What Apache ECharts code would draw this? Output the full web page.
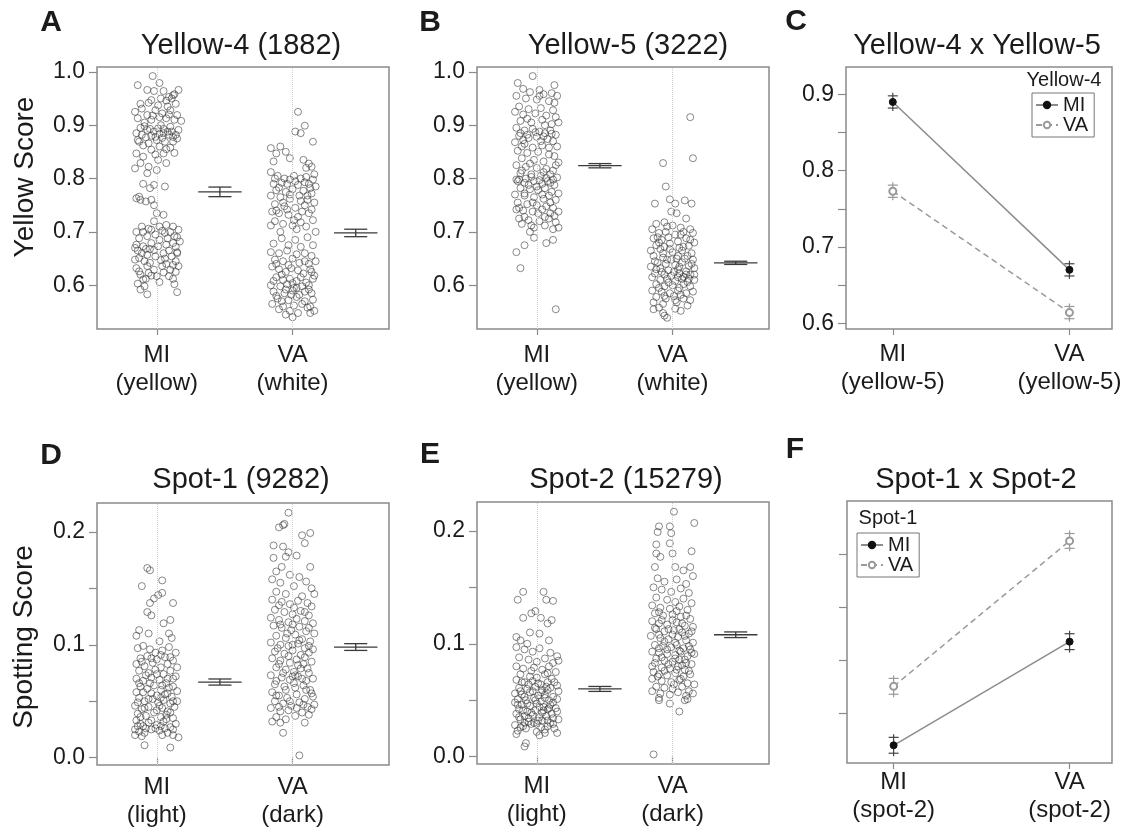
<!DOCTYPE html>
<html>
<head>
<meta charset="utf-8">
<script src="https://cdn.jsdelivr.net/npm/echarts@6/dist/echarts.min.js"></script>
<style>
html,body{margin:0;padding:0;background:#fff;}
#chart{width:1126px;height:830px;}
</style>
</head>
<body>
<div id="chart"></div>
<script>
// ---------------- DATA ----------------
// jittered points: [x-jitter (category units), score]
const yellow4_MI = [
[-.03,.992],[-.14,.975],[.02,.979],[.16,.966],[-.07,.966],[-.02,.964],[.05,.964],[.09,.953],[.12,.956],[-.04,.947],[.03,.950],[.07,.946],[.11,.950],[.13,.958],
[-.16,.925],[-.11,.931],[-.07,.919],[-.01,.928],[.04,.922],[.10,.928],[.15,.919],[-.14,.913],[-.04,.910],[.07,.913],[.13,.910],[.18,.908],[.01,.937],[-.09,.905],
[-.15,.885],[-.11,.882],[-.07,.891],[-.02,.888],[.01,.894],[.05,.885],[.08,.888],[.12,.878],[.16,.891],[-.13,.869],[-.06,.866],[0,.872],[.06,.869],[.12,.869],[-.09,.898],[.03,.900],[.10,.897],[-.01,.878],[.04,.876],[.14,.882],[-.04,.880],
[-.15,.847],[-.10,.841],[-.04,.854],[.01,.835],[.05,.847],[-.12,.829],[-.06,.822],[0,.816],[.07,.829],[-.16,.819],[.10,.858],[.02,.860],
[-.07,.810],[-.10,.790],[-.02,.788],[-.05,.782],[.06,.785],[-.15,.763],[-.12,.760],[-.08,.757],[-.04,.760],[-.02,.750],[0,.735],[.05,.732],[-.13,.766],
[-.02,.720],[-.15,.700],[-.10,.700],[-.04,.704],[.02,.710],[.07,.713],[.12,.710],[.16,.704],[-.13,.688],[-.07,.692],[-.01,.695],[.06,.698],[.13,.692],[-.15,.676],[-.10,.673],[-.04,.679],[.01,.673],[.07,.676],[.12,.679],[.17,.682],[-.08,.668],[.09,.665],[.15,.662],[-.02,.666],
[-.13,.651],[-.07,.657],[-.01,.654],[.05,.660],[.11,.654],[.15,.660],[-.16,.670],[.14,.645],[-.05,.642],[.03,.647],
[-.15,.632],[-.07,.636],[-.02,.629],[.04,.636],[.10,.629],[.16,.636],[-.12,.620],[-.06,.623],[0,.617],[.09,.617],[-.10,.611],[.02,.606],[.12,.612],[-.13,.626],[.14,.625],
[-.09,.598],[-.12,.592],[-.07,.583],[.15,.587],[-.14,.603],
[-.12,.895],[-.05,.893],[.02,.884],[.09,.882],[.15,.875],[-.14,.872],[-.08,.877],[.05,.893],[.11,.888],[-.03,.918],[.02,.915],[.09,.920],[-.12,.940],[-.06,.942],[.08,.935],[.14,.940],[-.10,.862],[.07,.855],[.13,.848],[-.01,.845],
[-.11,.710],[-.06,.706],[.04,.702],[.10,.700],[.15,.690],[-.14,.665],[-.11,.660],[-.05,.668],[.02,.685],[.08,.688],[.14,.672],[-.09,.645],[.07,.640],[.12,.638],[-.16,.648],[-.04,.618],[.05,.624],[.13,.602],[-.08,.612],[.06,.650]
];
const yellow4_VA = [
[.04,.925],[.02,.888],[.06,.885],[.09,.899],[.15,.869],
[-.16,.857],[-.09,.860],[-.05,.850],[-.12,.847],[.08,.835],[-.14,.832],[.12,.828],[-.02,.838],[.10,.820],[.14,.822],
[-.16,.812],[-.11,.805],[-.06,.800],[-.02,.798],[.02,.795],[.06,.800],[.10,.803],[.15,.798],[-.14,.790],[-.08,.792],[.04,.788],[.12,.790],[.17,.785],[-.12,.778],[-.05,.775],[0,.780],[.08,.777],[.14,.772],[-.16,.768],[-.09,.765],[-.02,.762],[.05,.768],[.11,.760],[.16,.755],[-.13,.752],[-.06,.748],[.02,.745],[.09,.750],[.14,.742],
[-.15,.738],[-.10,.735],[-.03,.732],[.04,.728],[.12,.735],[-.13,.720],[-.07,.715],[0,.712],[.06,.718],[.15,.722],[-.16,.712],[.10,.710],[.03,.705],[.17,.700],[-.09,.700],
[-.08,.688],[.02,.685],[.11,.690],[-.14,.678],[-.03,.675],[.06,.672],[.15,.675],[-.16,.662],[-.10,.660],[-.04,.665],[.03,.658],[.09,.660],[.14,.655],[-.13,.648],[-.07,.645],[0,.650],[.05,.642],[.12,.640],[.17,.645],
[-.15,.635],[-.10,.630],[-.05,.625],[-.01,.632],[.04,.628],[.08,.622],[.13,.630],[.16,.618],[-.12,.615],[-.07,.610],[-.02,.612],[.03,.608],[.10,.605],[.15,.612],[-.16,.600],[-.09,.598],[-.04,.602],[.01,.595],[.07,.598],[.12,.592],[-.14,.588],[-.06,.585],[0,.590],[.05,.582],[.14,.585],[-.11,.575],[-.03,.572],[.03,.578],[.09,.570],[.15,.573],[-.15,.565],[-.07,.560],[.01,.562],[.11,.558],[-.02,.552],[.04,.548],[-.05,.545],[0,.540],[.16,.552],[.13,.548],[-.10,.555],
[-.13,.800],[-.04,.790],[.01,.805],[.09,.793],[.13,.782],[-.10,.783],[-.02,.770],[.06,.758],[.11,.768],[-.07,.755],[-.12,.740],[.07,.738],[.01,.722],[-.04,.742],[.16,.808],
[-.12,.640],[-.03,.638],[.09,.645],[.14,.625],[-.08,.620],[.06,.615],[-.14,.608],[.00,.604],[.12,.600],[-.05,.592],[.09,.588],[-.12,.580],[.03,.595],[.07,.565],[-.08,.570],[.13,.560],[-.01,.582]
];
const yellow5_MI = [
[-.03,.992],[-.14,.979],[.13,.975],[-.10,.968],[-.05,.962],[.02,.966],[.05,.958],[.11,.960],[.15,.955],[-.15,.955],[-.08,.950],[.00,.948],[.09,.945],
[-.13,.935],[-.06,.930],[.03,.932],[.12,.928],[-.16,.925],[-.10,.920],[-.01,.922],[.07,.918],[.14,.915],[-.12,.908],[-.04,.905],[.04,.910],[.11,.902],[.16,.905],
[-.15,.895],[-.09,.890],[-.03,.893],[.02,.888],[.06,.885],[.10,.890],[.14,.882],[-.13,.880],[-.06,.876],[0,.878],[.08,.874],[.12,.870],[-.16,.868],[-.09,.865],[.04,.862],[.15,.860],[-.03,.858],
[-.14,.852],[-.07,.848],[.01,.850],[.09,.845],[.13,.842],[-.11,.838],[-.02,.835],[.05,.832],[.16,.830],[-.15,.825],[-.08,.822],[.00,.820],[.07,.818],[.12,.815],[-.12,.810],[-.04,.808],[.03,.805],[.10,.808],[.15,.802],
[-.15,.798],[-.14,.795],[-.09,.792],[-.02,.795],[.04,.790],[.08,.795],[.13,.788],[-.12,.782],[-.05,.780],[.01,.778],[.06,.782],[.11,.775],[.16,.772],[-.16,.770],[-.09,.768],[-.02,.765],[.05,.762],[.09,.768],[.14,.760],
[-.14,.755],[-.07,.752],[.00,.750],[.07,.748],[.12,.745],[-.15,.742],[-.10,.740],[-.03,.738],[.04,.742],[.10,.735],[.16,.738],
[-.13,.725],[-.06,.722],[.02,.720],[.09,.725],[.14,.718],[-.11,.715],[-.04,.712],[-.02,.708],[.06,.712],[.12,.705],[.16,.708],
[-.15,.662],[-.12,.632],[-.09,.675],[-.02,.689],[.07,.679],[.12,.685],[-.05,.700],[.14,.555],
[-.12,.885],[-.07,.882],[-.01,.887],[.05,.879],[.11,.884],[-.10,.872],[.03,.870],[-.13,.798],[-.08,.800],[-.04,.803],[.02,.797],[.07,.801],[.12,.798],[-.06,.788],[.00,.785],[.10,.792],[-.11,.815],[.05,.812],[.14,.825],[-.05,.828],[.09,.858],[-.11,.860],[.06,.900],[-.07,.912],[.13,.942],[.02,.955],[-.09,.772],[.04,.770],[.10,.755],[-.03,.755],[.13,.730],[-.09,.728],[.06,.728],[-.13,.745],[.01,.735]
];
const yellow5_VA = [
[.13,.915],[.15,.838],[-.07,.829],[-.05,.785],[-.13,.753],[-.02,.761],[.02,.753],[.09,.759],[.14,.753],[.03,.735],[-.01,.738],[.10,.725],
[-.12,.715],[-.06,.718],[-.04,.710],[.00,.712],[.06,.708],[.13,.705],[-.15,.705],[-.10,.698],[-.05,.700],[.02,.695],[.08,.700],[.15,.698],
[-.14,.688],[-.08,.685],[-.03,.690],[.04,.682],[.10,.688],[.16,.680],[-.12,.675],[-.06,.672],[-.02,.678],[.05,.670],[.12,.674],[-.16,.665],[-.09,.668],[.00,.662],[.07,.665],[.14,.660],
[-.14,.655],[-.07,.652],[-.01,.648],[.04,.655],[.09,.650],[.15,.648],[-.11,.642],[-.05,.640],[.02,.638],[.07,.643],[.12,.636],[-.16,.635],[-.09,.632],[-.03,.628],[.04,.630],[.10,.626],[.16,.632],
[-.13,.622],[-.06,.620],[-.01,.618],[.05,.622],[.08,.616],[.13,.620],[-.15,.615],[-.09,.610],[-.04,.612],[.02,.608],[.07,.612],[.11,.606],[.16,.610],[-.12,.602],[-.06,.598],[.00,.600],[.05,.595],[.13,.598],
[-.15,.590],[-.08,.588],[-.02,.585],[.04,.590],[.10,.585],[.15,.588],[-.12,.578],[-.05,.575],[.01,.580],[.08,.575],[.13,.572],[-.14,.568],[-.07,.565],[.03,.568],[.11,.562],[-.10,.558],
[-.14,.555],[-.07,.548],[-.04,.539],[-.06,.543],[.02,.556],[.06,.552],
[-.10,.680],[-.02,.668],[.08,.672],[.13,.685],[-.07,.660],[.03,.650],[.11,.655],[-.13,.645],[-.04,.648],[.05,.635],[.14,.640],[-.08,.625],[.01,.625],[.10,.620],[-.12,.630],[-.03,.605],[.04,.615],[.12,.612],[-.10,.595],[.08,.602],[.16,.620],[-.06,.580],[.06,.582],[.02,.572],[-.11,.690],[.06,.695]
];
const spot1_MI = [
[-.07,.168],[-.05,.166],[-.11,.152],[.04,.157],[-.02,.141],[.01,.144],[.04,.146],[-.05,.137],[.12,.137],[-.07,.129],[-.04,.126],[.05,.119],[.10,.122],[-.13,.113],[-.06,.110],[.09,.110],[.11,.106],[-.15,.108],[.02,.103],
[-.14,.097],[-.10,.099],[-.05,.096],[-.01,.093],[.04,.095],[.09,.098],[.14,.093],[-.12,.088],[-.07,.090],[.00,.087],[.06,.089],[.12,.086],[-.15,.083],[-.09,.081],[-.03,.084],[.03,.080],[.08,.083],[.15,.080],
[-.13,.077],[-.06,.075],[-.01,.078],[.05,.074],[.10,.077],[.14,.072],[-.15,.070],[-.10,.068],[-.04,.071],[.02,.069],[.07,.066],[.12,.070],[-.12,.063],[-.07,.061],[-.02,.064],[.03,.060],[.09,.062],[.15,.059],[-.15,.058],[-.04,.057],[.06,.056],[.11,.054],
[-.13,.053],[-.09,.050],[-.03,.052],[.01,.049],[.05,.051],[.10,.048],[.15,.050],[-.16,.046],[-.11,.043],[-.06,.045],[.00,.042],[.04,.044],[.08,.041],[.13,.045],[-.14,.039],[-.08,.037],[-.02,.040],[.03,.036],[.07,.038],[.12,.035],
[-.15,.033],[-.12,.030],[-.10,.028],[-.06,.031],[.00,.029],[.05,.032],[.10,.027],[.14,.030],[-.16,.025],[-.13,.023],[-.09,.022],[-.04,.025],[.02,.024],[.08,.022],[.12,.020],[-.16,.020],[.16,.018],[-.01,.026],[.04,.020],
[-.09,.011],[.10,.009],
[-.11,.085],[-.04,.088],[.03,.091],[.10,.089],[-.08,.073],[.00,.074],[.08,.070],[-.13,.066],[-.05,.066],[.04,.064],[.12,.063],[-.10,.058],[.00,.055],[.08,.057],[-.14,.049],[-.06,.052],[.03,.053],[.12,.050],[-.09,.044],[.02,.046],[.10,.040],[-.12,.036],[-.04,.033],[.07,.034],[-.14,.028],[-.08,.026],[.03,.028],[.12,.025],[-.11,.019],[.06,.026]
];
const spot1_VA = [
[-.03,.217],[-.10,.204],[-.07,.206],[-.06,.207],[.07,.197],[.13,.199],[.09,.190],[-.14,.188],[-.07,.187],[-.03,.182],[-.05,.178],[.03,.179],[-.14,.177],[-.08,.169],[.13,.169],[-.12,.165],[-.02,.162],[.05,.160],[.10,.156],[-.15,.158],[-.09,.155],[.01,.152],[.14,.150],
[-.12,.147],[-.05,.145],[.07,.143],[.16,.145],[-.15,.140],[-.08,.138],[-.02,.136],[.04,.139],[.11,.137],[.14,.134],[-.13,.131],[-.06,.129],[.00,.127],[.06,.130],[.12,.126],[-.16,.124],[-.10,.122],[-.03,.120],[.03,.123],[.09,.121],[.15,.119],
[-.14,.117],[-.08,.115],[-.01,.113],[.05,.116],[.10,.112],[.16,.110],[-.12,.108],[-.05,.106],[.02,.109],[.07,.105],[.13,.103],[-.16,.102],[-.09,.100],[-.03,.099],[.04,.101],[.09,.097],[.15,.096],[-.13,.094],[-.06,.092],[.00,.095],[.06,.091],[.12,.093],
[-.15,.088],[-.09,.086],[-.02,.084],[.03,.087],[.08,.083],[.14,.085],[-.12,.080],[-.05,.078],[.01,.076],[.06,.079],[.12,.075],[-.16,.073],[-.08,.071],[-.02,.069],[.04,.072],[.10,.068],[.15,.070],[-.13,.065],[-.06,.063],[.02,.062],[.08,.064],[.13,.060],
[-.15,.058],[-.10,.055],[-.04,.053],[.03,.056],[.09,.052],[.15,.054],[-.13,.050],[-.07,.048],[-.01,.046],[.05,.049],[.11,.045],[.16,.047],[-.16,.044],[-.09,.041],[-.03,.042],[.07,.040],[.12,.038],[-.12,.036],[-.05,.034],[.02,.037],[.14,.043],[-.15,.032],[-.09,.031],[.09,.031],
[-.07,.022],[.05,.002],
[-.10,.135],[.01,.133],[.09,.129],[-.09,.118],[.00,.118],[.12,.115],[-.04,.110],[.05,.104],[.00,.100],[.12,.099],[-.11,.097],[-.03,.090],[.09,.089],[-.10,.083],[.04,.082],[.11,.079],[-.07,.075],[.02,.073],[.07,.070],[-.12,.068],[.01,.066],[-.05,.060],[.10,.060],[-.12,.055],[-.02,.050],[.08,.047],[-.10,.045],[.03,.044],[.14,.057],[.00,.072]
];
const spot2_MI = [
[-.10,.146],[-.14,.139],[.05,.146],[.07,.139],[.12,.138],[-.01,.129],[-.04,.127],[-.10,.123],[.03,.123],[.11,.121],[.08,.118],[-.05,.110],[.02,.109],[-.15,.106],[-.12,.103],[.09,.103],[-.07,.100],
[-.15,.097],[-.09,.095],[-.03,.093],[.02,.096],[.10,.092],[.15,.089],[-.13,.088],[-.06,.086],[.00,.084],[.06,.087],[.12,.083],[.16,.085],[-.15,.080],[-.10,.078],[-.02,.079],[.04,.077],[.09,.080],[.14,.075],[-.12,.073],[-.05,.071],[.00,.070],[.06,.073],[.11,.069],
[-.15,.068],[-.09,.066],[-.03,.067],[.03,.064],[.08,.066],[.15,.063],[-.13,.061],[-.07,.060],[-.01,.062],[.04,.059],[.10,.061],[.16,.058],[-.16,.056],[-.11,.055],[-.05,.057],[.01,.054],[.06,.055],[.12,.053],[-.14,.051],[-.08,.050],[-.02,.052],[.03,.049],[.09,.050],[.15,.051],
[-.16,.048],[-.11,.046],[-.05,.045],[.00,.047],[.05,.044],[.10,.046],[.14,.043],[-.13,.042],[-.07,.040],[-.01,.041],[.04,.039],[.08,.042],[.15,.040],[-.15,.038],[-.09,.036],[-.03,.037],[.02,.035],[.07,.036],[.12,.034],[-.12,.033],[-.06,.031],[-.02,.030],[.01,.032],[.10,.030],[.16,.033],
[-.16,.028],[-.10,.027],[-.04,.029],[.03,.026],[.08,.027],[.13,.025],[-.14,.023],[-.08,.025],[.00,.022],[.06,.021],[.15,.021],[-.15,.020],[.02,.019],
[-.09,.009],[-.08,.012],
[-.11,.066],[-.06,.064],[.01,.065],[.07,.062],[.13,.066],[-.12,.058],[-.03,.058],[.03,.057],[.08,.059],[-.09,.053],[-.01,.050],[.06,.052],[.12,.048],[-.14,.046],[-.07,.047],[.02,.044],[.09,.043],[-.10,.041],[-.04,.039],[.05,.041],[.11,.038],[-.13,.035],[-.06,.034],[.04,.032],[.08,.032],[-.09,.030],[.00,.029],[.12,.029],[-.12,.026],[.06,.024],[-.04,.076],[.08,.074]
];
const spot2_VA = [
[.01,.217],[.16,.207],[-.10,.204],[-.02,.204],[-.11,.199],[-.01,.198],[-.12,.188],[-.02,.189],[.00,.180],[.14,.182],[-.12,.180],[-.09,.177],[.02,.168],[-.13,.168],[.13,.168],[.08,.165],[.15,.160],
[-.11,.158],[-.06,.155],[.03,.157],[.10,.153],[-.14,.150],[-.08,.148],[-.01,.146],[.06,.149],[.12,.145],[-.12,.141],[-.04,.139],[.02,.137],[.08,.140],[.14,.136],[-.15,.134],[-.09,.132],[-.02,.131],[.05,.133],[.11,.130],
[-.13,.127],[-.07,.125],[.00,.126],[.06,.124],[.13,.122],[-.15,.120],[-.10,.118],[-.04,.117],[.03,.119],[.09,.116],[.15,.115],[-.12,.113],[-.06,.111],[.01,.112],[.07,.110],[.12,.109],[-.16,.107],[-.09,.105],[-.03,.104],[.04,.106],[.10,.103],[.15,.101],
[-.13,.099],[-.07,.098],[-.01,.097],[.03,.099],[.08,.096],[.13,.095],[-.15,.093],[-.10,.092],[-.04,.091],[.02,.090],[.06,.093],[.11,.089],[.16,.091],[-.12,.087],[-.06,.085],[.00,.084],[.05,.086],[.10,.083],[.14,.082],[-.15,.080],[-.08,.079],[-.02,.078],[.04,.080],[.09,.077],
[-.14,.075],[-.10,.073],[-.04,.072],[.02,.074],[.08,.071],[.13,.073],[-.15,.069],[-.08,.067],[-.01,.066],[.05,.068],[.11,.065],[.16,.064],[-.12,.062],[-.06,.061],[.00,.060],[.07,.062],[.12,.058],[-.15,.058],[-.09,.056],[-.02,.055],[.04,.057],[.10,.054],[.15,.056],[-.10,.052],[.09,.050],[.11,.051],
[-.10,.050],[-.02,.047],[.05,.040],[-.14,.002],
[-.10,.128],[.03,.129],[.10,.125],[-.08,.121],[.00,.121],[.07,.118],[-.13,.114],[-.03,.113],[.05,.113],[.14,.111],[-.10,.108],[.00,.108],[.09,.107],[-.06,.102],[.02,.101],[.12,.098],[-.10,.096],[-.04,.095],[.05,.094],[.14,.092],[-.08,.088],[.02,.087],[.09,.086],[-.13,.083],[-.03,.082],[.07,.081],[-.06,.076],[.03,.077],[.12,.076],[-.11,.071],[.06,.069],[.01,.064]
];

// group means and error half-widths [MI, VA]
const yellow4_mean = [0.775, 0.698], yellow4_err = [0.009, 0.007];
const yellow5_mean = [0.824, 0.642], yellow5_err = [0.004, 0.003];
const spot1_mean = [0.067, 0.098],  spot1_err = [0.0027, 0.003];
const spot2_mean = [0.060, 0.108],  spot2_err = [0.0022, 0.0025];

// interaction means (x = second locus MI / VA)
const yInt_MI = [0.890, 0.670], yInt_VA = [0.773, 0.614], yInt_err_MI = [0.008, 0.008], yInt_err_VA = [0.008, 0.008];
const sInt_MI = [0.0477, 0.0869], sInt_VA = [0.070, 0.125], sInt_err_MI = [0.003, 0.003], sInt_err_VA = [0.003, 0.0028];

// categories / labels
const catPos = [1, 2];
const labelsYellow = ['MI\n(yellow)', 'VA\n(white)'];
const labelsSpot = ['MI\n(light)', 'VA\n(dark)'];
const labelsY5 = ['MI\n(yellow-5)', 'VA\n(yellow-5)'];
const labelsS2 = ['MI\n(spot-2)', 'VA\n(spot-2)'];
const yellowTicks = [0.6, 0.7, 0.8, 0.9, 1.0];
const yIntTicks = [0.6, 0.65, 0.7, 0.75, 0.8, 0.85, 0.9];
const yIntLabels = [0.6, 0.7, 0.8, 0.9];
const spotTicks = [0, 0.05, 0.1, 0.15, 0.2];
const spotLabels = [0, 0.1, 0.2];
const sIntTicks = [0.06, 0.08, 0.10, 0.12];
const titles = ['Yellow-4 (1882)', 'Yellow-5 (3222)', 'Yellow-4 x Yellow-5', 'Spot-1 (9282)', 'Spot-2 (15279)', 'Spot-1 x Spot-2'];
const letters = ['A', 'B', 'C', 'D', 'E', 'F'];

// ---------------- CHART ----------------
const FONT = '"Liberation Sans", Arial, Helvetica, sans-serif';
const TXT = '#1b1b1b';
const BOX = '#8a8a8a';
const MEAN_OFF = 0.465;

const grids = [
  {left: 97, top: 67, width: 292, height: 262},
  {left: 477, top: 67, width: 292, height: 262},
  {left: 846, top: 67, width: 266, height: 262},
  {left: 97, top: 503, width: 292, height: 262},
  {left: 477, top: 502, width: 292, height: 262},
  {left: 847, top: 501, width: 265, height: 262}
].map(g => Object.assign({show: true, borderColor: BOX, borderWidth: 1.5, backgroundColor: 'transparent'}, g));

function xAx(i, min, max, labels, margin) {
  return {
    type: 'value', gridIndex: i, min: min, max: max,
    axisLine: {show: false}, splitLine: {show: false},
    axisTick: {show: true, customValues: catPos, length: 6, lineStyle: {color: BOX, width: 1.2}},
    axisLabel: {customValues: catPos, formatter: v => labels[Math.round(v) - 1], margin: margin,
      fontSize: 24, lineHeight: 28, color: TXT, fontFamily: FONT}
  };
}
function yAx(i, min, max, ticks, labs, showLabel) {
  return {
    type: 'value', gridIndex: i, min: min, max: max,
    axisLine: {show: false}, splitLine: {show: false},
    axisTick: {show: true, customValues: ticks, length: 8, lineStyle: {color: BOX, width: 1.2}},
    axisLabel: {show: showLabel, customValues: labs, formatter: v => v.toFixed(1), margin: 12,
      fontSize: 23, color: TXT, fontFamily: FONT}
  };
}

const xAxis = [
  xAx(0, 0.56, 2.71, labelsYellow, 12),
  xAx(1, 0.56, 2.71, labelsYellow, 12),
  xAx(2, 0.735, 2.241, labelsY5, 11),
  xAx(3, 0.56, 2.71, labelsSpot, 8),
  xAx(4, 0.56, 2.71, labelsSpot, 8),
  xAx(5, 0.735, 2.241, labelsS2, 5)
];
const yAxis = [
  yAx(0, 0.518, 1.009, yellowTicks, yellowTicks, true),
  yAx(1, 0.518, 1.009, yellowTicks, yellowTicks, true),
  yAx(2, 0.5925, 0.9358, yIntTicks, yIntLabels, true),
  yAx(3, -0.0065, 0.2256, spotTicks, spotLabels, true),
  yAx(4, -0.0065, 0.2256, spotTicks, spotLabels, true),
  yAx(5, 0.041, 0.1401, sIntTicks, sIntTicks, false)
];

function jitterSeries(i, pts, cat, name) {
  return {
    type: 'scatter', name: name, xAxisIndex: i, yAxisIndex: i, z: 3,
    data: pts.map(p => [cat + p[0], p[1]]),
    symbol: 'circle', symbolSize: 7,
    itemStyle: {color: 'rgba(0,0,0,0)', borderColor: 'rgba(50,50,50,0.72)', borderWidth: 1},
    markLine: {silent: true, symbol: ['none', 'none'], label: {show: false}, animation: false,
      lineStyle: {type: 'dotted', color: '#cfcfcf', width: 1}, data: [{xAxis: cat}]},
    emphasis: {disabled: true}
  };
}
function meanSeries(i, means, errs, name) {
  return {
    type: 'custom', name: name, xAxisIndex: i, yAxisIndex: i, z: 4,
    data: catPos.map((c, k) => [c + MEAN_OFF, means[k], errs[k]]),
    renderItem: function (params, api) {
      const x = api.value(0), m = api.value(1), s = api.value(2);
      const l = api.coord([x - 0.16, m]), r = api.coord([x + 0.16, m]);
      const cl = api.coord([x - 0.085, m])[0], cr = api.coord([x + 0.085, m])[0];
      const cx = api.coord([x, m])[0];
      const t = api.coord([x, m + s])[1], b = api.coord([x, m - s])[1];
      const st = {stroke: '#3a3a3a', lineWidth: 1.3, fill: null};
      return {type: 'group', children: [
        {type: 'line', shape: {x1: l[0], y1: l[1], x2: r[0], y2: r[1]}, style: st},
        {type: 'line', shape: {x1: cx, y1: t, x2: cx, y2: b}, style: st},
        {type: 'line', shape: {x1: cl, y1: t, x2: cr, y2: t}, style: st},
        {type: 'line', shape: {x1: cl, y1: b, x2: cr, y2: b}, style: st}
      ]};
    }
  };
}
function errSeries(i, means, errs, color, name) {
  return {
    type: 'custom', name: name, xAxisIndex: i, yAxisIndex: i, z: 5,
    data: catPos.map((c, k) => [c, means[k], errs[k]]),
    renderItem: function (params, api) {
      const x = api.value(0), m = api.value(1), s = api.value(2);
      const cx = api.coord([x, m])[0];
      const t = api.coord([x, m + s])[1], b = api.coord([x, m - s])[1];
      const st = {stroke: color, lineWidth: 1.2, fill: null};
      return {type: 'group', children: [
        {type: 'line', shape: {x1: cx, y1: t - 3, x2: cx, y2: b + 3}, style: st},
        {type: 'line', shape: {x1: cx - 5, y1: t, x2: cx + 5, y2: t}, style: st},
        {type: 'line', shape: {x1: cx - 5, y1: b, x2: cx + 5, y2: b}, style: st}
      ]};
    }
  };
}
function lineMI(i, vals) {
  return {
    type: 'line', name: 'MI', xAxisIndex: i, yAxisIndex: i, z: 6,
    data: catPos.map((c, k) => [c, vals[k]]),
    symbol: 'circle', symbolSize: 7,
    itemStyle: {color: '#111', borderColor: '#111', borderWidth: 1},
    lineStyle: {color: '#8c8c8c', width: 1.5, type: 'solid'},
    emphasis: {disabled: true}
  };
}
function lineVA(i, vals) {
  return {
    type: 'line', name: 'VA', xAxisIndex: i, yAxisIndex: i, z: 6,
    data: catPos.map((c, k) => [c, vals[k]]),
    symbol: 'emptyCircle', symbolSize: 7,
    itemStyle: {color: '#9a9a9a', borderColor: '#9a9a9a', borderWidth: 1.5},
    lineStyle: {color: '#9a9a9a', width: 1.5, type: [6, 4]},
    emphasis: {disabled: true}
  };
}

const series = [
  jitterSeries(0, yellow4_MI, 1, 'y4mi'), jitterSeries(0, yellow4_VA, 2, 'y4va'), meanSeries(0, yellow4_mean, yellow4_err, 'y4m'),
  jitterSeries(1, yellow5_MI, 1, 'y5mi'), jitterSeries(1, yellow5_VA, 2, 'y5va'), meanSeries(1, yellow5_mean, yellow5_err, 'y5m'),
  errSeries(2, yInt_MI, yInt_err_MI, '#444', 'cemi'), errSeries(2, yInt_VA, yInt_err_VA, '#999', 'ceva'),
  lineMI(2, yInt_MI), lineVA(2, yInt_VA),
  jitterSeries(3, spot1_MI, 1, 's1mi'), jitterSeries(3, spot1_VA, 2, 's1va'), meanSeries(3, spot1_mean, spot1_err, 's1m'),
  jitterSeries(4, spot2_MI, 1, 's2mi'), jitterSeries(4, spot2_VA, 2, 's2va'), meanSeries(4, spot2_mean, spot2_err, 's2m'),
  errSeries(5, sInt_MI, sInt_err_MI, '#444', 'femi'), errSeries(5, sInt_VA, sInt_err_VA, '#999', 'feva'),
  lineMI(5, sInt_MI), lineVA(5, sInt_VA)
];

const legendBase = {
  data: ['MI', 'VA'], orient: 'vertical', itemWidth: 22, itemHeight: 8, itemGap: 0,
  padding: [2, 6, 2, 3], borderColor: '#777', borderWidth: 1, selectedMode: false,
  textStyle: {fontSize: 20, lineHeight: 20, color: TXT, fontFamily: FONT}
};
const legend = [
  Object.assign({}, legendBase, {left: 1032, top: 93}),
  Object.assign({}, legendBase, {left: 857, top: 533})
];

const titlePos = [[241, 46], [628, 46], [977, 46], [241, 480], [626, 480], [976, 480]];
const letterPos = [[51, 23], [430, 23], [796, 22], [51, 456], [430, 455], [795, 450]];
const graphic = [];
titles.forEach((t, k) => graphic.push({type: 'text', x: titlePos[k][0], y: titlePos[k][1], silent: true,
  style: {text: t, fontSize: 29, fontFamily: FONT, fill: TXT, align: 'center', verticalAlign: 'middle'}}));
letters.forEach((t, k) => graphic.push({type: 'text', x: letterPos[k][0], y: letterPos[k][1], silent: true,
  style: {text: t, fontSize: 30, fontWeight: 'bold', fontFamily: FONT, fill: TXT, align: 'center', verticalAlign: 'middle'}}));
graphic.push({type: 'text', x: 25, y: 177, rotation: Math.PI / 2, silent: true,
  style: {text: 'Yellow Score', fontSize: 28, fontFamily: FONT, fill: TXT, align: 'center', verticalAlign: 'middle'}});
graphic.push({type: 'text', x: 24, y: 637, rotation: Math.PI / 2, silent: true,
  style: {text: 'Spotting Score', fontSize: 28, fontFamily: FONT, fill: TXT, align: 'center', verticalAlign: 'middle'}});
graphic.push({type: 'text', x: 1064, y: 80, silent: true,
  style: {text: 'Yellow-4', fontSize: 20, fontFamily: FONT, fill: TXT, align: 'center', verticalAlign: 'middle'}});
graphic.push({type: 'text', x: 888, y: 518, silent: true,
  style: {text: 'Spot-1', fontSize: 20, fontFamily: FONT, fill: TXT, align: 'center', verticalAlign: 'middle'}});

const chart = echarts.init(document.getElementById('chart'), null, {renderer: 'canvas'});
chart.setOption({
  animation: false,
  backgroundColor: '#ffffff',
  textStyle: {fontFamily: FONT},
  grid: grids, xAxis: xAxis, yAxis: yAxis, series: series, legend: legend, graphic: graphic
});
</script>
</body>
</html>
